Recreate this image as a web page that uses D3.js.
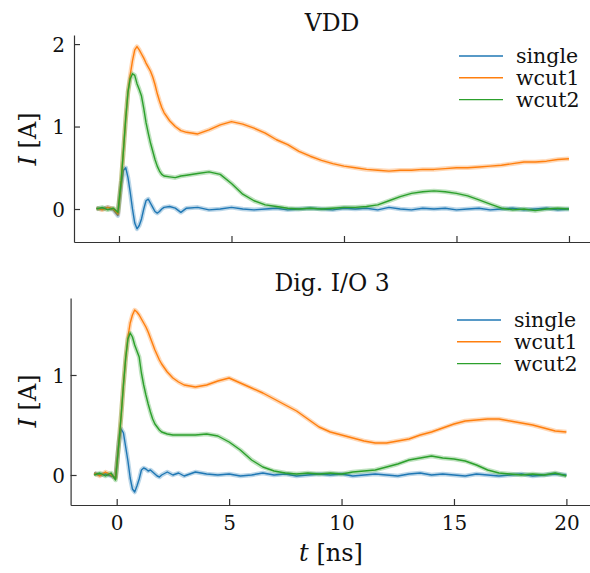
<!DOCTYPE html>
<html>
<head>
<meta charset="utf-8">
<script src="https://cdn.jsdelivr.net/npm/d3@7"></script>
<style>
  body { margin: 0; background: #fff; }
  text { font-family: "DejaVu Serif", serif; fill: #111; }
</style>
</head>
<body>
<div id="main"></div>
<script>
const W = 590, H = 573;

// time axis shared by all traces [ns]
const tNs = [-1, -0.75, -0.5, -0.25, -0.05,
  0.1, 0.2, 0.3, 0.4, 0.5, 0.6, 0.7, 0.8, 0.9, 1.0,
  1.1, 1.2, 1.3, 1.4, 1.5, 1.6, 1.7, 1.8, 1.9, 2.0,
  2.25, 2.5, 2.75, 3.0, 3.5, 4, 4.5, 5, 5.5, 6, 6.5, 7, 7.5, 8, 8.5, 9, 9.5,
  10, 10.5, 11, 11.5, 12, 12.5, 13, 13.5, 14, 14.5, 15, 15.5, 16, 16.5,
  17, 17.5, 18, 18.5, 19, 19.5, 20];

const seriesNames = ['single', 'wcut1', 'wcut2'];
const seriesColors = ['#1f77b4', '#ff7f0e', '#2ca02c'];

// VDD panel
const vddSingle = [0.01, 0.0, 0.02, -0.01, -0.08,
  0.3, 0.47, 0.5, 0.38, 0.2, 0.0, -0.17, -0.24, -0.2, -0.12,
  0.0, 0.1, 0.12, 0.07, 0.02, -0.03, -0.05, -0.03, 0.0, 0.02,
  0.03, 0.01, -0.04, 0.01, 0.02, -0.01, 0.0, 0.02, 0.0, -0.01, 0.0, 0.01, -0.01, 0.0, 0.01, 0.0, -0.01,
  0.01, 0.0, 0.01, -0.01, 0.02, 0.0, -0.01, 0.01, 0.0, 0.01, -0.01, 0.0, 0.01, -0.01,
  0.0, 0.01, -0.01, 0.0, 0.01, -0.01, 0.0];
const vddWcut1 = [0.01, -0.01, 0.02, 0.0, -0.06,
  0.35, 0.72, 1.1, 1.42, 1.63, 1.8, 1.93, 1.97, 1.93, 1.88,
  1.83, 1.77, 1.72, 1.67, 1.6, 1.51, 1.4, 1.31, 1.23, 1.17,
  1.07, 1.0, 0.95, 0.93, 0.91, 0.96, 1.02, 1.06, 1.03, 0.98, 0.92, 0.84, 0.78, 0.7, 0.64, 0.59, 0.55,
  0.52, 0.5, 0.48, 0.47, 0.46, 0.47, 0.47, 0.48, 0.48, 0.49, 0.5, 0.5, 0.51, 0.52,
  0.53, 0.55, 0.57, 0.57, 0.58, 0.6, 0.61];
const vddWcut2 = [0.0, 0.02, -0.01, 0.01, -0.04,
  0.35, 0.72, 1.1, 1.42, 1.58, 1.64, 1.62, 1.52, 1.45, 1.37,
  1.22, 1.05, 0.92, 0.8, 0.7, 0.6, 0.52, 0.46, 0.42, 0.4,
  0.39, 0.38, 0.4, 0.41, 0.43, 0.45, 0.42, 0.31, 0.18, 0.1, 0.05, 0.03, 0.01, 0.0, 0.01, 0.0, 0.01,
  0.02, 0.02, 0.03, 0.05, 0.1, 0.15, 0.19, 0.21, 0.22, 0.21, 0.19, 0.16, 0.11, 0.06,
  0.01, -0.01, 0.0, -0.02, 0.0, 0.01, 0.0];

// Dig. I/O 3 panel
const ioSingle = [0.02, 0.0, 0.01, -0.01, -0.02,
  0.33, 0.46, 0.42, 0.28, 0.14, -0.03, -0.14, -0.17, -0.11, -0.04,
  0.05, 0.07, 0.06, 0.04, 0.05, 0.03, 0.01, -0.01, -0.02, 0.0,
  0.03, 0.0, 0.02, -0.01, 0.03, 0.01, 0.0, 0.01, -0.01, 0.0, 0.02, 0.0, 0.01, -0.01, 0.0, 0.01, 0.0,
  0.01, -0.01, 0.0, 0.01, 0.0, -0.01, 0.01, 0.02, 0.0, 0.01, 0.0, -0.01, 0.01, 0.0,
  -0.01, 0.0, 0.01, -0.01, 0.0, 0.01, 0.0];
const ioWcut1 = [0.02, -0.01, 0.03, 0.0, -0.03,
  0.33, 0.6, 0.9, 1.17, 1.38, 1.52, 1.6, 1.65, 1.63, 1.6,
  1.56, 1.52, 1.48, 1.43, 1.37, 1.31, 1.25, 1.2, 1.15, 1.11,
  1.03, 0.97, 0.93, 0.9, 0.88, 0.9, 0.94, 0.97, 0.92, 0.87, 0.82, 0.76, 0.7, 0.64, 0.56, 0.48, 0.43,
  0.4, 0.37, 0.34, 0.32, 0.32, 0.34, 0.36, 0.4, 0.43, 0.47, 0.51, 0.54, 0.55, 0.56,
  0.56, 0.54, 0.52, 0.5, 0.47, 0.44, 0.43];
const ioWcut2 = [0.0, 0.02, -0.01, 0.02, -0.05,
  0.33, 0.6, 0.9, 1.17, 1.36, 1.42, 1.38, 1.3, 1.24, 1.18,
  1.02, 0.9, 0.8, 0.71, 0.63, 0.56, 0.51, 0.48, 0.45, 0.43,
  0.41, 0.4, 0.4, 0.4, 0.4, 0.41, 0.39, 0.33, 0.25, 0.15, 0.08, 0.04, 0.02, 0.01, 0.02, 0.01, 0.02,
  0.01, 0.03, 0.04, 0.05, 0.08, 0.11, 0.15, 0.17, 0.19, 0.17, 0.16, 0.14, 0.1, 0.05,
  0.02, 0.01, 0.0, 0.01, 0.0, 0.02, -0.01];

const xTicks = [0, 5, 10, 15, 20];

const panels = [
  { title: 'VDD', series: [vddSingle, vddWcut1, vddWcut2], yTicks: [0, 1, 2],
    xRange: [74, 592.6], xDomain: [-2, 21.05], yDomain: [-0.4, 2.11], yRange: [242, 35],
    titleY: 31, legendX: 459, legendY: 56, showX: false, labelY: 139 },
  { title: 'Dig. I/O 3', series: [ioSingle, ioWcut1, ioWcut2], yTicks: [0, 1],
    xRange: [70.6, 590], xDomain: [-2.05, 21.05], yDomain: [-0.3, 1.77], yRange: [505, 298],
    titleY: 291, legendX: 457, legendY: 320, showX: true, labelY: 401 }
];

const svg = d3.select('#main')
              .append('svg')
              .attr('width', W)
              .attr('height', H);

panels.forEach((p) => {
  const x = d3.scaleLinear().domain(p.xDomain).range(p.xRange);
  const y = d3.scaleLinear().domain(p.yDomain).range(p.yRange);
  const g = svg.append('g');

  const line = d3.line()
                 .x((d) => x(d[0]))
                 .y((d) => y(d[1]));

  p.series.forEach((vals, i) => {
    const pts = tNs.map((t, k) => [t, vals[k]]);
    // soft band underneath to hint at the measurement noise
    g.append('path')
     .attr('d', line(pts))
     .attr('fill', 'none')
     .attr('stroke', seriesColors[i])
     .attr('stroke-width', 4.5)
     .attr('stroke-opacity', 0.3)
     .attr('stroke-linejoin', 'round');
    g.append('path')
     .attr('d', line(pts))
     .attr('fill', 'none')
     .attr('stroke', seriesColors[i])
     .attr('stroke-width', 1.4)
     .attr('stroke-linejoin', 'round');
  });

  // x axis (ticks inward)
  const xAxis = d3.axisBottom(x).tickValues(xTicks).tickSizeInner(-6).tickSizeOuter(0)
                  .tickFormat(p.showX ? d3.format('d') : '');
  const gx = g.append('g')
              .attr('transform', 'translate(0,' + p.yRange[0] + ')')
              .call(xAxis);
  gx.select('.domain').attr('stroke', '#333').attr('stroke-width', 1.2);
  gx.selectAll('.tick line').attr('stroke', '#333').attr('stroke-width', 1.2);
  gx.selectAll('.tick text')
    .attr('y', 25)
    .attr('dy', 0)
    .style('font-size', '20px')
    .style('font-family', '"DejaVu Serif", serif')
    .attr('fill', '#111');

  // y axis (ticks inward)
  const yAxis = d3.axisLeft(y).tickValues(p.yTicks).tickSizeInner(-6).tickSizeOuter(0)
                  .tickFormat(d3.format('d'));
  const gy = g.append('g')
              .attr('transform', 'translate(' + p.xRange[0] + ',0)')
              .call(yAxis);
  gy.select('.domain').attr('stroke', '#333').attr('stroke-width', 1.2);
  gy.selectAll('.tick line').attr('stroke', '#333').attr('stroke-width', 1.2);
  gy.selectAll('.tick text')
    .attr('x', 65 - p.xRange[0])
    .attr('dy', '0.36em')
    .style('font-size', '20px')
    .style('font-family', '"DejaVu Serif", serif')
    .attr('fill', '#111');

  // title
  g.append('text')
   .attr('x', 332)
   .attr('y', p.titleY)
   .attr('text-anchor', 'middle')
   .style('font-size', '23.5px')
   .text(p.title);

  // y label
  const yl = g.append('text')
              .attr('transform', 'translate(36,' + p.labelY + ') rotate(-90)')
              .attr('text-anchor', 'middle')
              .style('font-size', '24px');
  yl.append('tspan').style('font-style', 'italic').text('I');
  yl.append('tspan').text(' [A]');

  // legend
  const leg = g.append('g')
               .selectAll('g')
               .data(seriesNames)
               .enter()
               .append('g')
               .attr('transform', (d, i) => 'translate(' + p.legendX + ',' + (p.legendY + i * 21.8) + ')');
  leg.append('line')
     .attr('x1', 0).attr('x2', 44)
     .attr('y1', 0).attr('y2', 0)
     .attr('stroke', (d, i) => seriesColors[i])
     .attr('stroke-width', 1.4);
  leg.append('text')
     .attr('x', 57)
     .attr('y', 7)
     .style('font-size', '20.5px')
     .text((d) => d);
});

// shared x label
const xl = svg.append('text')
              .attr('x', 331)
              .attr('y', 561)
              .attr('text-anchor', 'middle')
              .style('font-size', '24px');
xl.append('tspan').style('font-style', 'italic').text('t');
xl.append('tspan').text(' [ns]');
</script>
</body>
</html>
